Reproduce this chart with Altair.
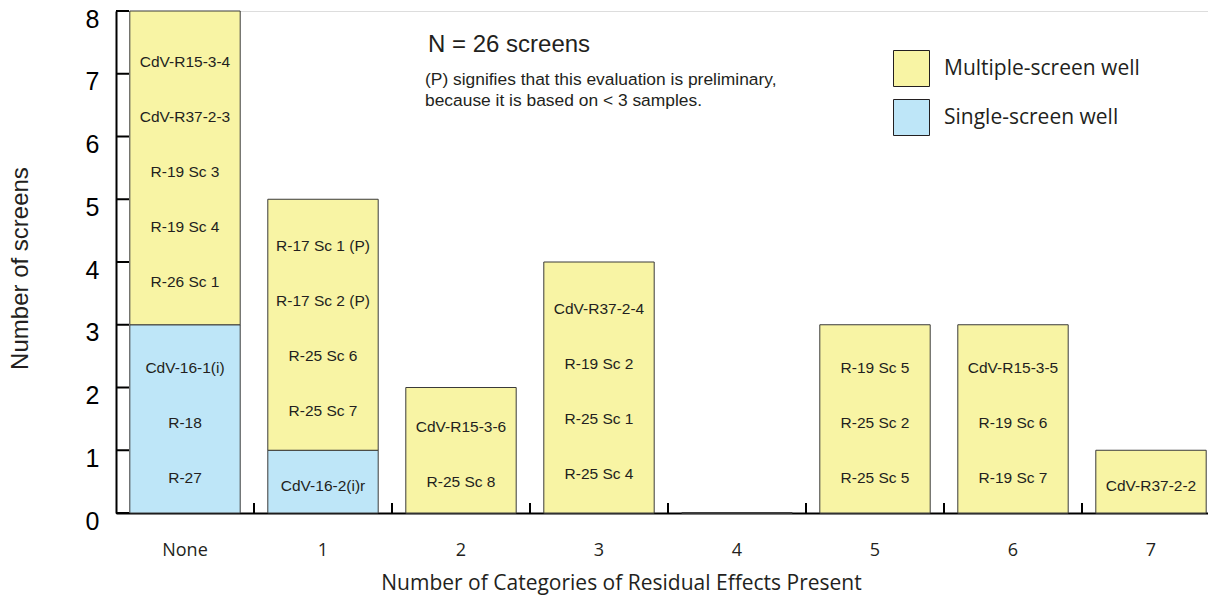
import altair as alt
import pandas as pd

# ---------------- data ----------------
categories = ["None", "1", "2", "3", "4", "5", "6", "7"]

multiple_labels = [
    ["CdV-R15-3-4", "CdV-R37-2-3", "R-19 Sc 3", "R-19 Sc 4", "R-26 Sc 1"],
    ["R-17 Sc 1 (P)", "R-17 Sc 2 (P)", "R-25 Sc 6", "R-25 Sc 7"],
    ["CdV-R15-3-6", "R-25 Sc 8"],
    ["CdV-R37-2-4", "R-19 Sc 2", "R-25 Sc 1", "R-25 Sc 4"],
    [],
    ["R-19 Sc 5", "R-25 Sc 2", "R-25 Sc 5"],
    ["CdV-R15-3-5", "R-19 Sc 6", "R-19 Sc 7"],
    ["CdV-R37-2-2"],
]
single_labels = [
    ["CdV-16-1(i)", "R-18", "R-27"],
    ["CdV-16-2(i)r"],
    [], [], [], [], [], [],
]
series_names = ["Multiple-screen well", "Single-screen well"]
series_colors = ["#F8F4A4", "#BEE6F8"]
y_ticks = [0, 1, 2, 3, 4, 5, 6, 7, 8]
header_note = ["N = 26 screens"]
small_notes = ["(P) signifies that this evaluation is preliminary,",
               "because it is based on < 3 samples."]

# ---------------- tables ----------------
LABEL_STEP = 0.875  # vertical spacing of names inside a segment (in screens)
seg_rows, lab_rows = [], []
for ci, cat in enumerate(categories):
    base = 0
    for rank, (name, lists) in enumerate([("Single-screen well", single_labels),
                                          ("Multiple-screen well", multiple_labels)]):
        labs = lists[ci]
        n = len(labs)
        seg_rows.append({"cat": cat, "series": name, "count": n, "rank": rank})
        center = base + n / 2
        for i, lab in enumerate(labs):
            lab_rows.append({"cat": cat, "label": lab,
                             "pos": center + ((n - 1) / 2 - i) * LABEL_STEP})
        base += n

seg_df = pd.DataFrame(seg_rows)
lab_df = pd.DataFrame(lab_rows)
ytick_df = pd.DataFrame({"v": y_ticks})
xtick_df = pd.DataFrame({"cat": categories[:-1]})
head_df = pd.DataFrame({"t": header_note})
notes_df = pd.DataFrame({"t": small_notes, "row": [0, 1]})

W, H = 1092, 502
TXT = "#231F20"
SANS = "Liberation Sans"
HUM = "Open Sans"

yscale = alt.Scale(domain=[0, 8], nice=False, zero=True)
xscale = alt.Scale(paddingInner=0, paddingOuter=0, range=[0, 1104])

x_axis = alt.Axis(
    title="Number of Categories of Residual Effects Present",
    labelAngle=0, labelFont=HUM, labelFontSize=18, labelColor=TXT,
    labelPadding=28, ticks=False, domainColor="black", domainWidth=2,
    titleFont=HUM, titleFontSize=21, titleFontWeight="normal", titleColor=TXT,
    titleX=505, titleY=76, titleAlign="center", titleBaseline="alphabetic",
    grid=False,
)
y_axis = alt.Axis(
    title="Number of screens", values=y_ticks, ticks=False,
    labelFont=SANS, labelFontSize=25, labelColor="black", labelPadding=17,
    labelOffset=8,
    domainColor="black", domainWidth=2, grid=False,
    titleFont=SANS, titleFontSize=24, titleFontWeight="normal", titleColor=TXT,
    titlePadding=53, titleY=257,
)

bars = alt.Chart(seg_df).mark_bar(
    width={"band": 0.8}, stroke="#3a3a3a", strokeWidth=1
).encode(
    x=alt.X("cat:N", sort=categories, scale=xscale, axis=x_axis),
    y=alt.Y("count:Q", stack="zero", scale=yscale, axis=y_axis),
    color=alt.Color("series:N",
                    scale=alt.Scale(domain=series_names, range=series_colors),
                    legend=alt.Legend(title=None, orient="none",
                                      legendX=777, legendY=39,
                                      symbolType="square", symbolSize=1296,
                                      symbolStrokeColor=TXT, symbolStrokeWidth=1,
                                      symbolOpacity=1,
                                      labelFont=HUM, labelFontSize=21,
                                      labelColor=TXT, labelOffset=14,
                                      labelLimit=0,
                                      rowPadding=8, padding=0)),
    order=alt.Order("rank:Q", sort="ascending"),
)

labels = alt.Chart(lab_df).mark_text(
    font=SANS, fontSize=15.5, color=TXT, baseline="middle", align="center", dy=4
).encode(
    x=alt.X("cat:N", sort=categories),
    y=alt.Y("pos:Q"),
    text="label:N",
)

yticks = alt.Chart(ytick_df).mark_rule(color="black", strokeWidth=2).encode(
    y=alt.Y("v:Q"), x=alt.value(0), x2=alt.value(13)
)

xticks = alt.Chart(xtick_df).mark_rule(color="black", strokeWidth=2).encode(
    x=alt.X("cat:N", sort=categories, bandPosition=1),
    y=alt.value(H - 10), y2=alt.value(H),
)

head = alt.Chart(head_df).mark_text(
    font=SANS, fontSize=24, color=TXT, align="left", baseline="middle"
).encode(x=alt.value(312), y=alt.value(34), text="t:N")

notes = alt.Chart(notes_df).mark_text(
    font=SANS, fontSize=17.4, color=TXT, align="left", baseline="middle"
).encode(
    x=alt.value(309),
    y=alt.Y("row:Q", scale=alt.Scale(domain=[0, 1], range=[69, 90]), axis=None),
    text="t:N",
)

chart = alt.layer(bars, labels, yticks, xticks, head, notes).resolve_scale(
    y="independent"
).properties(
    width=W, height=H,
    autosize=alt.AutoSizeParams(type="none"),
    padding={"left": 108, "top": 3, "right": 0, "bottom": 82},
).configure_view(stroke=None).configure(background="white")

chart.save("out.html", embed_options={"renderer": "svg", "actions": False})
